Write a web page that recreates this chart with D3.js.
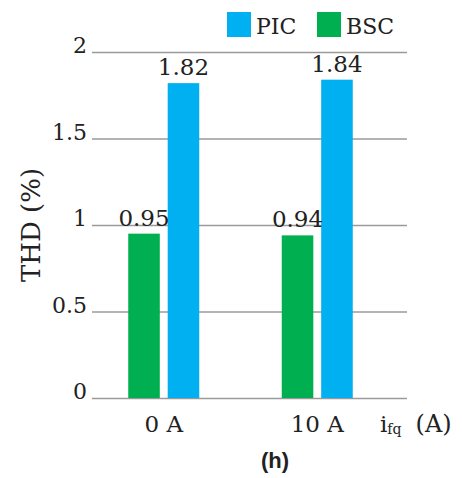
<!DOCTYPE html>
<html>
<head>
<meta charset="utf-8">
<script src="https://cdn.jsdelivr.net/npm/d3@7"></script>
<style>
	body { margin: 0; background: #fff; }
	text { font-family: "DejaVu Serif", "Liberation Serif", serif; fill: #222; }
</style>
</head>
<body>
<svg id="chart" width="462" height="478"></svg>
<script>

var categories	= ["0 A", "10 A"];
var seriesNames	= ["BSC", "PIC"];
var bscValues	= [0.95, 0.94];
var picValues	= [1.82, 1.84];
var yTicks		= [0, 0.5, 1, 1.5, 2];
var legendOrder	= ["PIC", "BSC"];

var COLORS = { PIC: "#00b0f0", BSC: "#00b050" };

var svg = d3.select("#chart");

var y = d3.scaleLinear()
	.domain([0, 2])
	.range([398, 52]);

var x = d3.scaleBand()
	.domain(categories)
	.range([87, 394]);

var GROUP_W = 71;

var xSub = d3.scaleBand()
	.domain(seriesNames)
	.range([0, GROUP_W])
	.paddingInner(0.2);

// grid lines
var grid = d3.axisLeft(y)
	.tickValues(yTicks)
	.tickSize(-315)
	.tickFormat("");

svg.append("g")
	.attr("transform", "translate(92,0)")
	.call(grid)
	.call(function(g) {
		g.select(".domain").remove();
		g.selectAll("line").attr("stroke", "#9a9a9a").attr("stroke-width", 1.3);
	});

// y tick labels
svg.selectAll(".ytick")
	.data(yTicks)
	.enter().append("text")
	.attr("class", "ytick")
	.attr("x", 87)
	.attr("y", function(d) { return y(d) + 1; })
	.attr("text-anchor", "end")
	.attr("font-size", 22)
	.text(function(d) { return d; });

// y title
svg.append("text")
	.attr("transform", "translate(40,225) rotate(-90)")
	.attr("text-anchor", "middle")
	.attr("font-size", 26)
	.text("THD (%)");

var rows = categories.map(function(c, i) {
	return { cat: c, values: { BSC: bscValues[i], PIC: picValues[i] } };
});

var groups = svg.selectAll(".grp")
	.data(rows)
	.enter().append("g")
	.attr("class", "grp")
	.attr("transform", function(d) {
		return "translate(" + (x(d.cat) + x.bandwidth() / 2 - GROUP_W / 2) + ",0)";
	});

groups.selectAll("rect")
	.data(function(d) { return seriesNames.map(function(s) { return { s: s, v: d.values[s] }; }); })
	.enter().append("rect")
	.attr("x", function(d) { return xSub(d.s); })
	.attr("y", function(d) { return y(d.v); })
	.attr("width", xSub.bandwidth())
	.attr("height", function(d) { return y(0) - y(d.v); })
	.attr("fill", function(d) { return COLORS[d.s]; });

groups.selectAll(".val")
	.data(function(d) { return seriesNames.map(function(s) { return { s: s, v: d.values[s] }; }); })
	.enter().append("text")
	.attr("class", "val")
	.attr("x", function(d) { return xSub(d.s) + xSub.bandwidth() / 2; })
	.attr("y", function(d) { return y(d.v) - 8; })
	.attr("text-anchor", "middle")
	.attr("font-size", 23)
	.text(function(d) { return d.v.toFixed(2); });

// x labels
svg.selectAll(".xlab")
	.data(categories)
	.enter().append("text")
	.attr("class", "xlab")
	.attr("x", function(d) { return x(d) + x.bandwidth() / 2; })
	.attr("y", 432)
	.attr("text-anchor", "middle")
	.attr("font-size", 23)
	.text(function(d) { return d; });

// x title
var xt = svg.append("text")
	.attr("x", 380)
	.attr("y", 432)
	.attr("font-size", 23);
xt.append("tspan").text("i");
xt.append("tspan").attr("font-size", 14).attr("dy", 2).text("fq");
xt.append("tspan").attr("dy", -2).attr("dx", 14).attr("font-size", 24).text("(A)");

// legend
var legend = svg.selectAll(".leg")
	.data(legendOrder)
	.enter().append("g")
	.attr("class", "leg")
	.attr("transform", function(d, i) { return "translate(" + (227 + i * 90) + ",12)"; });

legend.append("rect")
	.attr("width", 24)
	.attr("height", 25)
	.attr("fill", function(d) { return COLORS[d]; });

legend.append("text")
	.attr("x", 29)
	.attr("y", 22)
	.attr("font-size", 22)
	.text(function(d) { return d; });

// panel label
svg.append("text")
	.attr("x", 275)
	.attr("y", 468)
	.attr("text-anchor", "middle")
	.attr("font-size", 22)
	.attr("font-weight", "bold")
	.style("font-family", "Liberation Sans, Arial, sans-serif")
	.text("(h)");

</script>
</body>
</html>
